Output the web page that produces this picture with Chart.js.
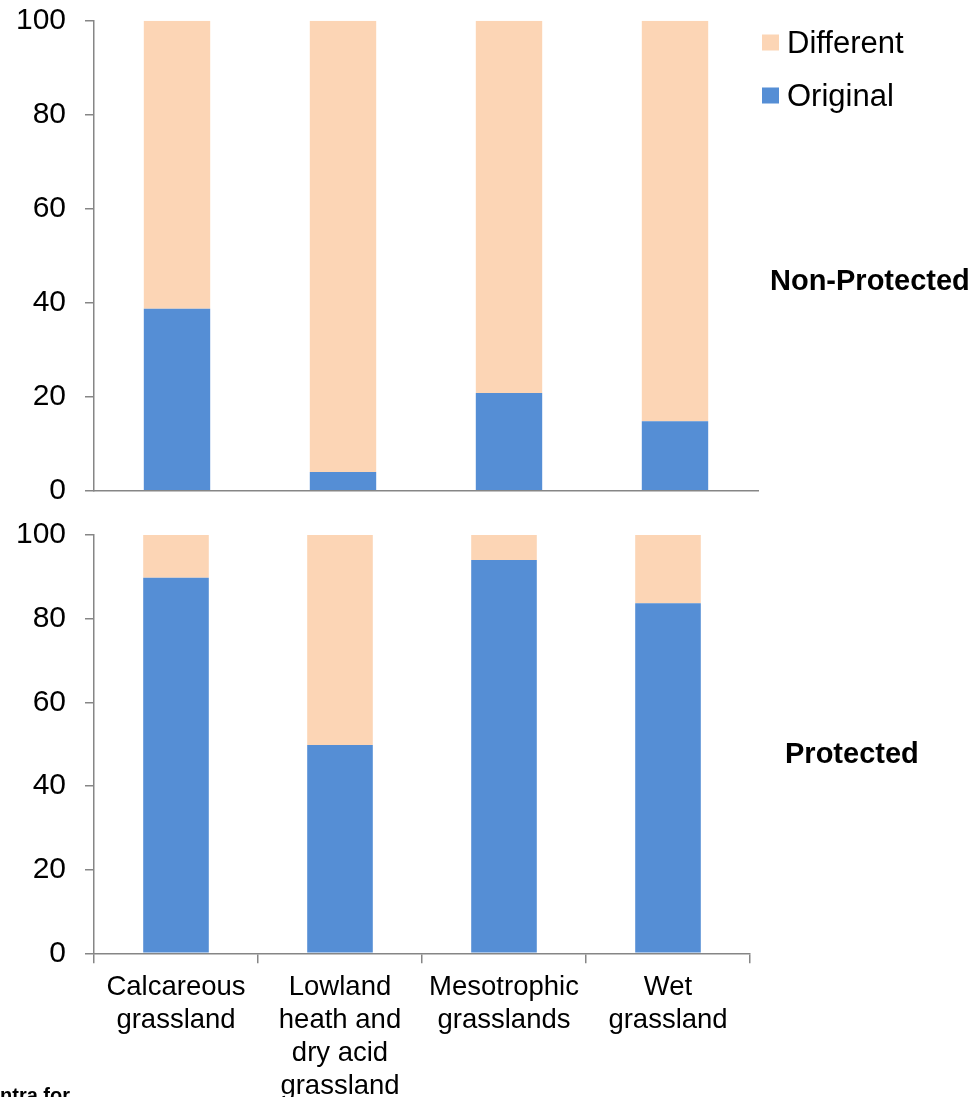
<!DOCTYPE html>
<html>
<head>
<meta charset="utf-8">
<title>Original vs different habitat, non-protected and protected sites</title>
<script src="https://cdn.jsdelivr.net/npm/chart.js@4.4.1/dist/chart.umd.min.js"></script>
<style>
  html, body { margin: 0; padding: 0; background: #ffffff; overflow: hidden; }
  body { width: 975px; height: 1097px; position: relative; }
  canvas { position: absolute; left: 0; }
  #topChart { top: 0; }
  #bottomChart { top: 500px; }
</style>
</head>
<body>
<canvas id="topChart" width="975" height="510"></canvas>
<canvas id="bottomChart" width="975" height="620"></canvas>
<script>
// Habitat categories (multi-line axis labels)
const categories = [
  ['Calcareous', 'grassland'],
  ['Lowland', 'heath and', 'dry acid', 'grassland'],
  ['Mesotrophic', 'grasslands'],
  ['Wet', 'grassland']
];

// Percentage of sites: non-protected
const nonProtectedOriginal = [38.7, 4.0, 20.8, 14.8];
const nonProtectedDifferent = [61.3, 96.0, 79.2, 85.2];

// Percentage of sites: protected
const protectedOriginal = [89.8, 49.8, 94.0, 83.7];
const protectedDifferent = [10.2, 50.2, 6.0, 16.3];

// Value axis
const yTickValues = [0, 20, 40, 60, 80, 100];

const seriesNames = ['Original', 'Different'];
const panelTitles = ['Non-Protected', 'Protected'];

const COLOR_ORIGINAL = '#558ED5';
const COLOR_DIFFERENT = '#FCD5B5';
const AXIS_GRAY = '#868686';
const FONT = '"Liberation Sans", Arial, sans-serif';

Chart.defaults.font.family = FONT;
Chart.defaults.color = '#000000';

function makeDatasets(original, different) {
  return [
    {
      label: seriesNames[0],
      data: original,
      backgroundColor: COLOR_ORIGINAL,
      borderWidth: 0,
      barPercentage: 0.4,
      categoryPercentage: 1.0
    },
    {
      label: seriesNames[1],
      data: different,
      backgroundColor: COLOR_DIFFERENT,
      borderWidth: 0,
      barPercentage: 0.4,
      categoryPercentage: 1.0
    }
  ];
}

function yAxis() {
  return {
    stacked: true,
    min: yTickValues[0],
    max: yTickValues[yTickValues.length - 1],
    afterBuildTicks: (scale) => { scale.ticks = yTickValues.map(v => ({ value: v })); },
    afterFit: (scale) => {
      // fixed axis width; plot extent is set by the layout padding only
      scale.width = 94;
      scale.paddingTop = 0;
      scale.paddingBottom = 0;
    },
    ticks: {
      font: { size: 30 },
      color: '#000000',
      padding: 19
    },
    grid: {
      display: true,
      drawOnChartArea: false,
      drawTicks: true,
      tickLength: 9,
      color: AXIS_GRAY,
      lineWidth: 1.5
    },
    border: { display: true, color: AXIS_GRAY, width: 1.5 }
  };
}

// Draws free-standing chart text (panel titles and legend)
const annotations = {
  id: 'annotations',
  afterDraw(chart, args, opts) {
    const ctx = chart.ctx;
    ctx.save();
    (opts.items || []).forEach(item => {
      if (item.swatch) {
        ctx.fillStyle = item.swatch;
        ctx.fillRect(item.x - 25, item.y - 18.5, 17, 16);
      }
      ctx.fillStyle = '#000000';
      ctx.font = item.font;
      ctx.textAlign = 'left';
      ctx.textBaseline = 'alphabetic';
      ctx.fillText(item.text, item.x, item.y);
    });
    ctx.restore();
  }
};

// Non-protected panel
new Chart(document.getElementById('topChart'), {
  type: 'bar',
  data: {
    labels: categories,
    datasets: makeDatasets(nonProtectedOriginal, nonProtectedDifferent)
  },
  options: {
    responsive: false,
    animation: false,
    devicePixelRatio: 1,
    layout: { padding: { top: 20.7, right: 217, bottom: 19.3, left: 0 } },
    plugins: {
      legend: { display: false },
      tooltip: { enabled: false },
      annotations: {
        items: [
          { text: seriesNames[1], x: 787, y: 53, font: '31px ' + FONT, swatch: COLOR_DIFFERENT },
          { text: seriesNames[0], x: 787, y: 106, font: '31px ' + FONT, swatch: COLOR_ORIGINAL },
          { text: panelTitles[0], x: 770, y: 290, font: 'bold 29px ' + FONT }
        ]
      }
    },
    scales: {
      x: {
        stacked: true,
        afterFit: (scale) => { scale.height = 0; },
        ticks: { display: false },
        grid: { display: false, drawTicks: false },
        border: { display: true, color: AXIS_GRAY, width: 1.5 }
      },
      y: yAxis()
    }
  },
  plugins: [annotations]
});

// Protected panel
new Chart(document.getElementById('bottomChart'), {
  type: 'bar',
  data: {
    labels: categories,
    datasets: makeDatasets(protectedOriginal, protectedDifferent)
  },
  options: {
    responsive: false,
    animation: false,
    devicePixelRatio: 1,
    layout: { padding: { top: 35, right: 225, bottom: 0, left: 0 } },
    plugins: {
      legend: { display: false },
      tooltip: { enabled: false },
      annotations: {
        items: [
          { text: panelTitles[1], x: 785, y: 263, font: 'bold 29px ' + FONT },
          { text: 'ntra for', x: 0, y: 602, font: 'bold 20px ' + FONT }
        ]
      }
    },
    scales: {
      x: {
        stacked: true,
        afterFit: (scale) => { scale.height = 166.7; },
        ticks: {
          font: { size: 27.5, lineHeight: 1.2 },
          color: '#000000',
          padding: 8,
          maxRotation: 0,
          autoSkip: false
        },
        grid: {
          display: true,
          offset: true,
          drawOnChartArea: false,
          drawTicks: true,
          tickLength: 10,
          color: AXIS_GRAY,
          lineWidth: 1.5
        },
        border: { display: true, color: AXIS_GRAY, width: 1.5 }
      },
      y: yAxis()
    }
  },
  plugins: [annotations]
});
</script>
</body>
</html>
